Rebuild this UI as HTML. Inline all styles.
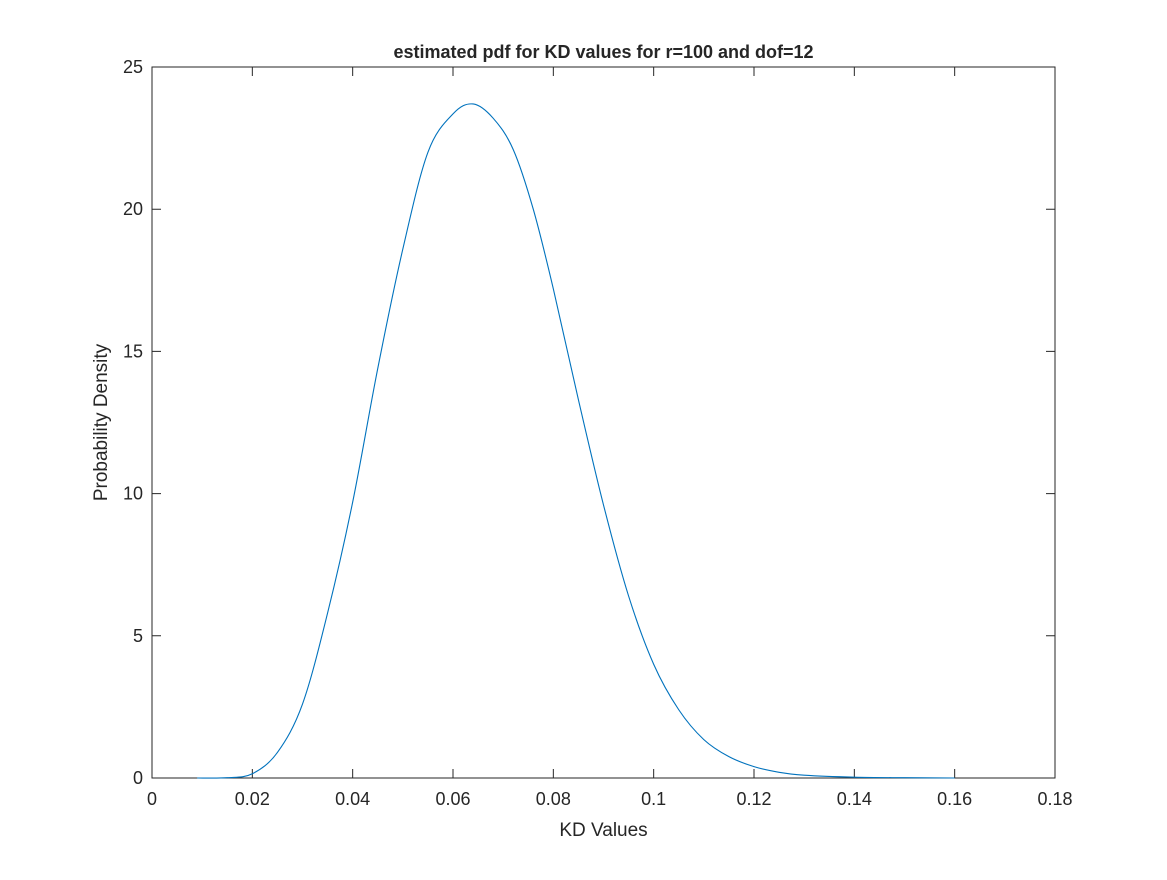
<!DOCTYPE html>
<html><head><meta charset="utf-8"><style>
body{margin:0;background:#fff;}
svg text{font-family:"Liberation Sans",Arial,sans-serif;fill:#262626;}
</style></head><body>
<svg id="chart" width="1167" height="875" xmlns="http://www.w3.org/2000/svg">
<rect x="0" y="0" width="1167" height="875" fill="#fff"/>
<g id="axes"></g>
</svg>
<script>
const xs=[0.009,0.015,0.02,0.025,0.03,0.035,0.04,0.045,0.05,0.055,0.06,0.064,0.068,0.072,0.076,0.08,0.085,0.09,0.095,0.1,0.105,0.11,0.115,0.12,0.125,0.13,0.14,0.15,0.16];
const ys=[0,0.01,0.15,0.9,2.6,5.8,9.7,14.4,18.6,22.0,23.35,23.7,23.2,22.1,20.0,17.2,13.3,9.6,6.4,4.0,2.4,1.35,0.75,0.4,0.2,0.1,0.03,0.01,0];
const xTicks=[0,0.02,0.04,0.06,0.08,0.1,0.12,0.14,0.16,0.18];
const xTickLabels=["0","0.02","0.04","0.06","0.08","0.1","0.12","0.14","0.16","0.18"];
const yTicks=[0,5,10,15,20,25];
const L=152,R=1055,T=67,B=778;
const X=v=>L+(v-0)/0.18*(R-L);
const Y=v=>B-(v/25)*(B-T);
const NS="http://www.w3.org/2000/svg";
const g=document.getElementById('axes');
function mk(t,a){const e=document.createElementNS(NS,t);for(const k in a)e.setAttribute(k,a[k]);g.appendChild(e);return e;}
const box=mk('rect',{x:L,y:T,width:R-L,height:B-T,fill:'none',stroke:'#262626','stroke-width':1});


xTicks.forEach((v,i)=>{
  const p=mk('path',{d:`M${X(v)},${B}v-9M${X(v)},${T}v9`,stroke:'#262626','stroke-width':1});
  
  
  const t=mk('text',{x:X(v),y:B+27,'text-anchor':'middle','font-size':18});
  t.textContent=xTickLabels[i];
  
  
});
yTicks.forEach(v=>{
  const p=mk('path',{d:`M${L},${Y(v)}h9M${R},${Y(v)}h-9`,stroke:'#262626','stroke-width':1});
  
  
  const t=mk('text',{x:L-9,y:Y(v)+6,'text-anchor':'end','font-size':18});
  t.textContent=String(v);
  
  
});
const P=xs.map((x,i)=>[X(x),Y(ys[i])]);
let d=`M${P[0][0]},${P[0][1]}`;
for(let i=0;i<P.length-1;i++){
  const p0=P[Math.max(0,i-1)],p1=P[i],p2=P[i+1],p3=P[Math.min(P.length-1,i+2)];
  const c1=[p1[0]+(p2[0]-p0[0])/6,p1[1]+(p2[1]-p0[1])/6];
  const c2=[p2[0]-(p3[0]-p1[0])/6,p2[1]-(p3[1]-p1[1])/6];
  d+=`C${c1[0]},${c1[1]} ${c2[0]},${c2[1]} ${p2[0]},${p2[1]}`;
}
const line=mk('path',{d:d,fill:'none',stroke:'#0072bd','stroke-width':1.1});


const tt=mk('text',{x:(L+R)/2,y:58,'text-anchor':'middle','font-size':18,'font-weight':'bold'});
tt.textContent='estimated pdf for KD values for r=100 and dof=12';


const xt=mk('text',{x:(L+R)/2,y:836,'text-anchor':'middle','font-size':19});
xt.textContent='KD Values';


const yt=mk('text',{x:0,y:0,'text-anchor':'middle','font-size':19,transform:`translate(107,${(T+B)/2}) rotate(-90)`});
yt.textContent='Probability Density';


</script>
</body></html>
